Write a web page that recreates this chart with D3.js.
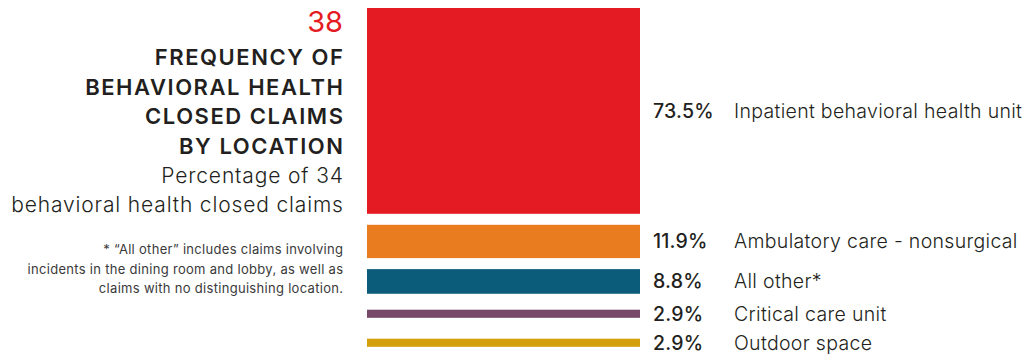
<!DOCTYPE html>
<html>
<head>
<meta charset="utf-8">
<script src="https://cdn.jsdelivr.net/npm/d3@7"></script>
<style>
  html, body { margin: 0; padding: 0; background: #ffffff; }
  svg { display: block; font-family: Inter, "Noto Sans", sans-serif; }
</style>
</head>
<body>
<svg id="chart" width="1031" height="356"></svg>
<script>
// Closed claims by location (percent of 34 behavioral health closed claims)
const categories = [
  "Inpatient behavioral health unit",
  "Ambulatory care - nonsurgical",
  "All other*",
  "Critical care unit",
  "Outdoor space"
];
const values = [73.5, 11.9, 8.8, 2.9, 2.9];
const valueLabels = ["73.5%", "11.9%", "8.8%", "2.9%", "2.9%"];
const barColors = ["#e51b24", "#e87c1e", "#0b5c7a", "#774868", "#d5a00d"];

const figureNumber = "38";
const titleLines = ["FREQUENCY OF", "BEHAVIORAL HEALTH", "CLOSED CLAIMS", "BY LOCATION"];
const subtitleLines = ["Percentage of 34", "behavioral health closed claims"];
const noteLines = [
  "* \u201CAll other\u201D includes claims involving",
  "incidents in the dining room and lobby, as well as",
  "claims with no distinguishing location."
];

const svg = d3.select("#chart");
const ink = "#231f20";

// Bar thickness encodes the share of claims
const h = d3.scaleLinear().domain([0, 100]).range([0, 280]);
const barLeft = 367, barRight = 640;
const top0 = 8, gap = 11, minRow = 18;

let cursor = top0;
const rows = values.map((v, i) => {
  const bh = h(v);
  const rowH = Math.max(bh, minRow);
  const r = { i, v, bh, top: cursor, center: cursor + rowH / 2 };
  cursor += rowH + gap;
  return r;
});

const g = svg.append("g");

g.selectAll("rect.bar")
  .data(rows)
  .join("rect")
  .attr("class", "bar")
  .attr("x", barLeft)
  .attr("width", barRight - barLeft)
  .attr("y", d => d.center - d.bh / 2)
  .attr("height", d => d.bh)
  .attr("fill", d => barColors[d.i]);

g.selectAll("text.pct")
  .data(rows)
  .join("text")
  .attr("class", "pct")
  .attr("x", 653)
  .attr("y", d => d.center)
  .attr("dy", "0.36em")
  .attr("font-size", 19.5)
  .attr("font-weight", 500)
  .attr("letter-spacing", 0.2)
  .attr("fill", ink)
  .text(d => valueLabels[d.i]);

g.selectAll("text.cat")
  .data(rows)
  .join("text")
  .attr("class", "cat")
  .attr("x", 734)
  .attr("y", d => d.center)
  .attr("dy", "0.36em")
  .attr("font-size", 19.5)
  .attr("font-weight", 300)
  .attr("letter-spacing", 0.32)
  .attr("fill", ink)
  .text(d => categories[d.i]);

// Title block, right-aligned against the bars
const tx = 343;
svg.append("text")
  .attr("x", tx).attr("y", 32)
  .attr("text-anchor", "end")
  .attr("font-size", 29)
  .attr("font-weight", 400)
  .attr("fill", "#e51b24")
  .text(figureNumber);

svg.selectAll("text.title")
  .data(titleLines)
  .join("text")
  .attr("class", "title")
  .attr("x", tx + 1.5)
  .attr("y", (d, i) => 65 + i * 29.5)
  .attr("text-anchor", "end")
  .attr("font-size", 22)
  .attr("font-weight", 600)
  .attr("letter-spacing", 1.55)
  .attr("fill", ink)
  .text(d => d);

svg.selectAll("text.sub")
  .data(subtitleLines)
  .join("text")
  .attr("class", "sub")
  .attr("x", tx + 0.8)
  .attr("y", (d, i) => 183 + i * 28.5)
  .attr("text-anchor", "end")
  .attr("font-size", 21)
  .attr("font-weight", 300)
  .attr("letter-spacing", 0.85)
  .attr("fill", ink)
  .text(d => d);

svg.selectAll("text.note")
  .data(noteLines)
  .join("text")
  .attr("class", "note")
  .attr("x", tx + 0.3)
  .attr("y", (d, i) => 254 + i * 19.5)
  .attr("text-anchor", "end")
  .attr("font-size", 13)
  .attr("font-weight", 400)
  .attr("letter-spacing", 0.3)
  .attr("fill", "#3a3a3a")
  .text(d => d);
</script>
</body>
</html>
